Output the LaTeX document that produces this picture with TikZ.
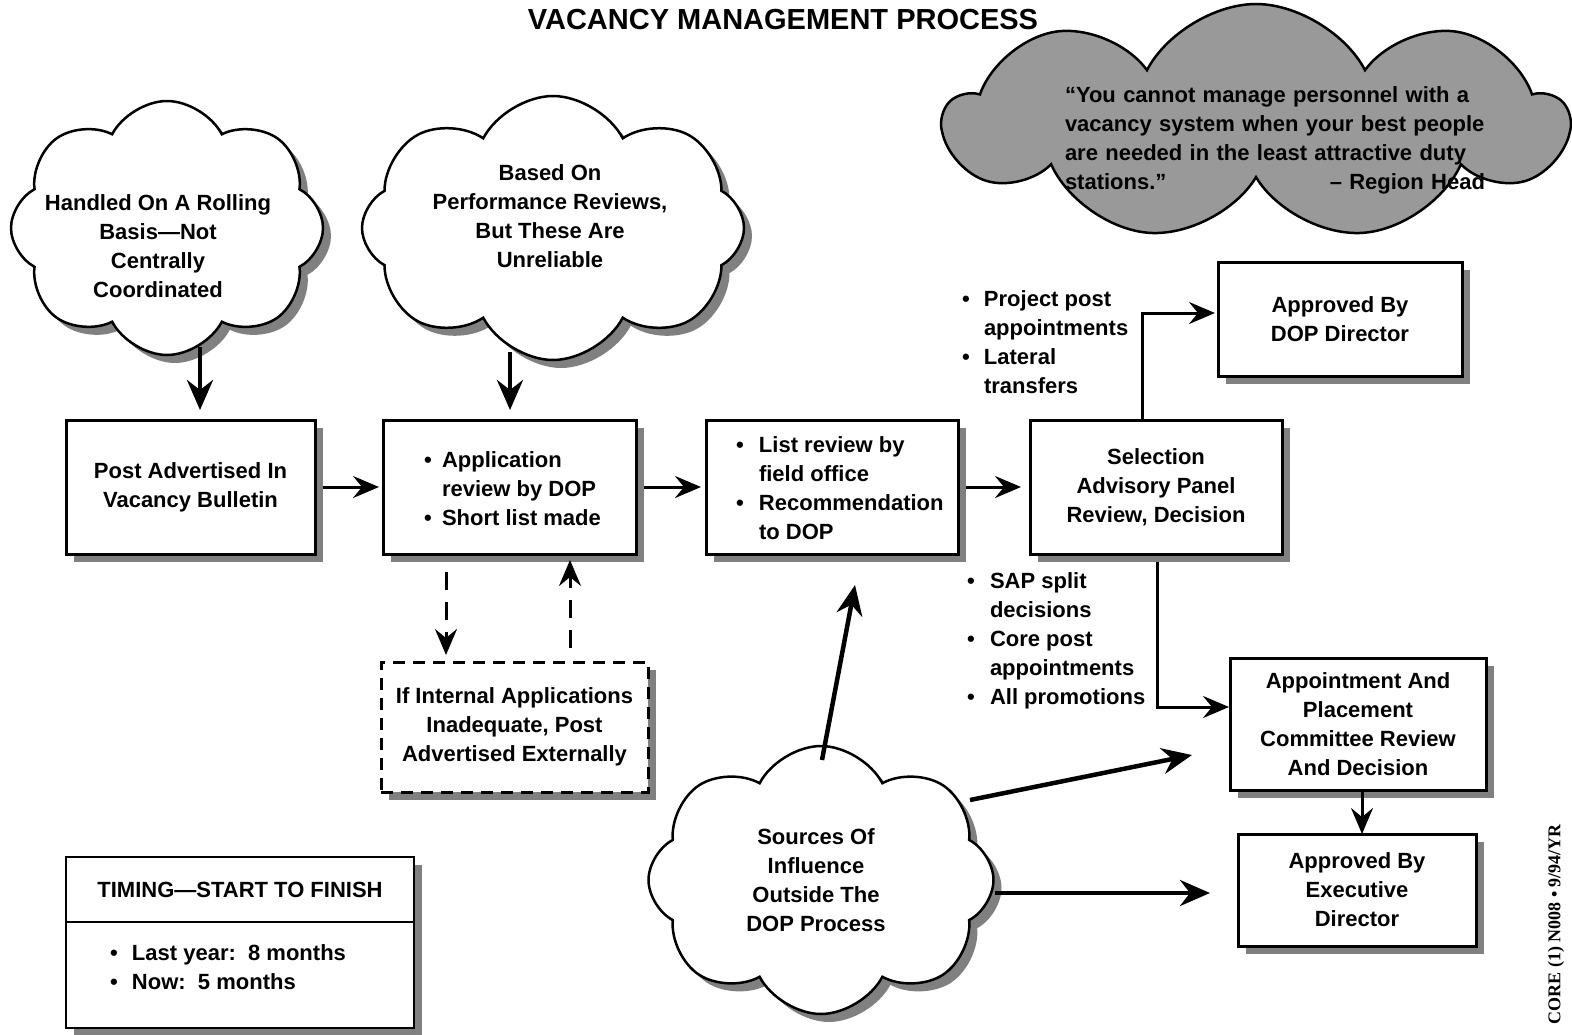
\documentclass[tikz,border=0pt]{standalone}
\usepackage{fontspec}
\setmainfont{Liberation Sans}
\newfontfamily\codefont{Liberation Serif}
\usetikzlibrary{shapes.symbols,shadows,arrows.meta,calc}
\newcommand\bitem[1][22pt]{\makebox[#1][l]{\textbullet}}
\newcommand\bcont[1][22pt]{\hspace*{#1}}
\begin{document}
\begin{tikzpicture}[x=1pt,y=-1pt,
  every node/.style={font=\fontsize{22}{29}\selectfont\bfseries, inner sep=0pt, outer sep=0pt},
  bshadow/.style={drop shadow={shadow xshift=8pt,shadow yshift=-8pt,fill=black!50,opacity=1}},
  procbox/.style={draw, line width=3pt, fill=white, bshadow, align=center},
  dbox/.style={draw, line width=3pt, dash pattern=on 12pt off 8pt, fill=white, bshadow, align=center},
  cloudsty/.style={cloud, cloud puffs=8, cloud puff arc=125, cloud ignores aspect, draw, line width=2.5pt, fill=white},
  txt/.style={align=center},
  arr/.style={line width=3pt, -{Stealth[length=26pt,width=22pt,inset=9pt]}},
  arrthick/.style={line width=4.5pt, -{Stealth[length=30pt,width=26pt,inset=10pt]}},
  darr/.style={line width=3pt, dash pattern=on 18pt off 12pt, -{Stealth[length=26pt,width=22pt,inset=9pt]}}
]
\fill[white] (0,0) rectangle (1572,1034);
\useasboundingbox (0,0) rectangle (1572,1034);

% title
\node[font=\fontsize{29}{34}\selectfont\bfseries] (title) at (783,20) {VACANCY MANAGEMENT PROCESS};

% clouds
\node[cloudsty, bshadow, minimum width=312pt, minimum height=254pt] (c1) at (167,228) {};
\node[txt] (t1) at (158,246) {Handled On A Rolling\\Basis—Not\\Centrally\\Coordinated};
\node[cloudsty, bshadow, minimum width=382pt, minimum height=264pt] (c2) at (553,228) {};
\node[txt] (t2) at (550,216) {Based On\\Performance Reviews,\\But These Are\\Unreliable};
\node[cloudsty, fill=black!40, cloud puffs=9, minimum width=622pt, minimum height=236pt] (cq) at (1256,122) {};
\node[align=left, text width=420pt] (tq) at (1275,140) {“You cannot manage personnel with a\\vacancy system when your best people\\are needed in the least attractive duty\\stations.” \hfill – Region Head};
\node[cloudsty, bshadow, minimum width=345pt, minimum height=268pt] (cs) at (821,880) {};
\node[txt] (ts) at (816,880) {Sources Of\\Influence\\Outside The\\DOP Process};

% boxes
\node[procbox, minimum width=249pt, minimum height=134pt] (b1) at (190.5,487) {Post Advertised In\\Vacancy Bulletin};
\node[procbox, minimum width=253pt, minimum height=134pt] (b2) at (509.5,487) {};
\node[align=left, anchor=west] (l2) at (424,489) {\bitem[18pt]Application\\\bcont[18pt]review by DOP\\\bitem[18pt]Short list made};
\node[procbox, minimum width=252pt, minimum height=134pt] (b3) at (832,487) {};
\node[align=left, anchor=west] (l3) at (736,488) {\bitem[23pt]List review by\\\bcont[23pt]field office\\\bitem[23pt]Recommendation\\\bcont[23pt]to DOP};
\node[procbox, minimum width=252pt, minimum height=134pt] (sel) at (1156,487) {Selection\\Advisory Panel\\Review, Decision};
\node[procbox, minimum width=244pt, minimum height=114pt] (dop) at (1340,319) {Approved By\\DOP Director};
\node[procbox, minimum width=256pt, minimum height=132pt] (appt) at (1358,724) {Appointment And\\Placement\\Committee Review\\And Decision};
\node[procbox, minimum width=238pt, minimum height=112pt] (exec) at (1357,890) {Approved By\\Executive\\Director};
\node[dbox, minimum width=267pt, minimum height=130pt] (ext) at (514.5,727) {If Internal Applications\\Inadequate, Post\\Advertised Externally};

% timing box
\node[draw, line width=2pt, fill=white, bshadow, minimum width=348pt, minimum height=171pt] (tim) at (240,942.5) {};
\draw[line width=2pt] ([yshift=-65pt]tim.north west) -- ([yshift=-65pt]tim.north east);
\node (timh) at (240,890) {TIMING—START TO FINISH};
\node[align=left, anchor=west] (timl) at (110,967) {\bitem[22pt]Last year:\ \ 8 months\\\bitem[22pt]Now:\ \ 5 months};

% side lists
\node[align=left, anchor=west] (lup) at (962,342) {\bitem Project post\\\bcont appointments\\\bitem Lateral\\\bcont transfers};
\node[align=left, anchor=west] (ldn) at (967,641) {\bitem[23pt]SAP split\\\bcont[23pt]decisions\\\bitem[23pt]Core post\\\bcont[23pt]appointments\\\bitem[23pt]All promotions};

% code
\node[rotate=90, anchor=east, font=\codefont\fontsize{18}{18}\selectfont\bfseries] (code) at (1556,824) {CORE (1) N008 • 9/94/YR};

% connectors
\draw[arrthick] ([xshift=33pt,yshift=8pt]c1.south) -- ([xshift=9.5pt,yshift=10pt]b1.north);
\draw[arrthick] ([xshift=-43pt,yshift=8pt]c2.south) -- ([xshift=0.5pt,yshift=10pt]b2.north);
\draw[arr, shorten >=4pt] ([xshift=8pt]b1.east) -- (b2.west);
\draw[arr, shorten >=5pt] ([xshift=8pt]b2.east) -- (b3.west);
\draw[arr, shorten >=9pt] ([xshift=8pt]b3.east) -- (sel.west);
\draw[arr, shorten >=3pt] ([xshift=-14pt]sel.north) |- ([yshift=6pt]dop.west);
\draw[arr, shorten >=1pt] ([xshift=1pt,yshift=-8pt]sel.south) |- ([yshift=17pt]appt.west);
\draw[arr] ([xshift=4pt]appt.south) -- ([xshift=5pt]exec.north);
\draw[darr] ([xshift=-63.5pt,yshift=-18pt]b2.south) -- ([xshift=-68.5pt,yshift=7pt]ext.north);
\draw[darr] ([xshift=55.5pt,yshift=14pt]ext.north) -- ([xshift=60.5pt,yshift=-6pt]b2.south);
\draw[arrthick] ([xshift=1pt,yshift=-14pt]cs.north) -- ([xshift=23pt,yshift=-31pt]b3.south);
\draw[arrthick] ($(cs.center)+(149,-80)$) -- ($(appt.west)+(-38,31)$);
\draw[arrthick] ($(cs.center)+(174,13)$) -- ($(exec.west)+(-28,3)$);
\end{tikzpicture}
\end{document}
